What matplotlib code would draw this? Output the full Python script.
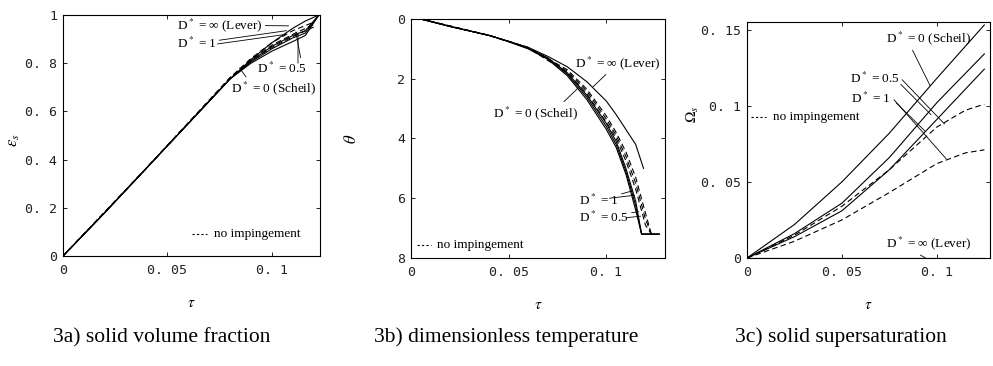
import matplotlib
matplotlib.use("Agg")
import matplotlib.pyplot as plt

plt.rcParams['font.family'] = ['Liberation Serif', 'DejaVu Serif']
plt.rcParams['mathtext.fontset'] = 'stix'

# ---- 3a) solid volume fraction ----
tau_a = [0, 0.02, 0.04, 0.06, 0.08, 0.09, 0.1, 0.11, 0.116, 0.1225]
eps_lever = [0, 0.18, 0.365, 0.55, 0.735, 0.815, 0.885, 0.945, 0.975, 1.0]
eps_d1 = [0, 0.18, 0.365, 0.55, 0.735, 0.81, 0.87, 0.915, 0.935, 1.0]
eps_d05 = [0, 0.18, 0.365, 0.55, 0.735, 0.805, 0.86, 0.905, 0.925, 1.0]
eps_scheil = [0, 0.18, 0.365, 0.55, 0.735, 0.80, 0.85, 0.89, 0.915, 1.0]
tau_a_ni = [0, 0.04, 0.08, 0.09, 0.1, 0.11, 0.12]
eps_scheil_ni = [0, 0.365, 0.74, 0.81, 0.865, 0.91, 0.95]
eps_d05_ni = [0, 0.365, 0.74, 0.815, 0.875, 0.92, 0.96]
eps_d1_ni = [0, 0.365, 0.74, 0.82, 0.885, 0.935, 0.97]

# ---- 3b) dimensionless temperature ----
tau_b = [0.005, 0.02, 0.04, 0.05, 0.06, 0.07, 0.08, 0.09, 0.1, 0.105, 0.11, 0.115, 0.118, 0.127]
th_scheil = [0, 0.25, 0.55, 0.76, 1.0, 1.35, 1.9, 2.7, 3.7, 4.3, 5.2, 6.4, 7.2, 7.2]
th_d05 = [0, 0.25, 0.55, 0.75, 0.99, 1.32, 1.85, 2.62, 3.6, 4.2, 5.1, 6.25, 7.2, 7.2]
th_d1 = [0, 0.25, 0.55, 0.75, 0.98, 1.3, 1.8, 2.55, 3.5, 4.1, 5.0, 6.1, 7.2, 7.2]
tau_b_lever = [0.005, 0.02, 0.04, 0.06, 0.07, 0.08, 0.09, 0.1, 0.105, 0.11, 0.115, 0.119]
th_lever = [0, 0.25, 0.55, 0.95, 1.25, 1.6, 2.1, 2.75, 3.2, 3.7, 4.2, 5.0]
tau_b_ni = [0.005, 0.04, 0.06, 0.08, 0.09, 0.1, 0.105, 0.11, 0.115, 0.12, 0.123]
th_scheil_ni = [0, 0.55, 0.97, 1.8, 2.5, 3.45, 4.0, 4.75, 5.7, 6.9, 7.2]
th_d05_ni = [0, 0.55, 0.96, 1.75, 2.42, 3.35, 3.9, 4.6, 5.5, 6.7, 7.2]
th_d1_ni = [0, 0.55, 0.95, 1.7, 2.35, 3.25, 3.8, 4.45, 5.3, 6.5, 7.2]

# ---- 3c) solid supersaturation ----
tau_c = [0, 0.025, 0.05, 0.075, 0.1, 0.125]
om_scheil = [0, 0.022, 0.05, 0.082, 0.118, 0.153]
om_d05 = [0, 0.016, 0.036, 0.066, 0.102, 0.134]
om_d1 = [0, 0.014, 0.031, 0.058, 0.091, 0.124]
om_lever = [0, 0, 0, 0, 0, 0]
tau_c_ni = [0, 0.025, 0.05, 0.075, 0.1, 0.115, 0.125]
om_d05_ni = [0, 0.015, 0.034, 0.058, 0.086, 0.097, 0.101]
om_d1_ni = [0, 0.011, 0.025, 0.043, 0.062, 0.069, 0.071]

captions = ["3a) solid volume fraction", "3b) dimensionless temperature",
            "3c) solid supersaturation"]

fig = plt.figure(figsize=(9.93, 3.66), dpi=100)
ax1 = fig.add_axes([0.0634, 0.3005, 0.2588, 0.6585])
ax2 = fig.add_axes([0.4139, 0.2951, 0.2558, 0.653])
ax3 = fig.add_axes([0.7523, 0.2951, 0.2447, 0.645])

solid = dict(color='black', lw=0.8)
dash = dict(color='black', lw=0.8, ls=(0, (5, 3)))
lead = dict(arrowstyle='-', lw=0.6, color='black', shrinkA=0, shrinkB=0)
afs = 9.5


def style(ax):
    ax.tick_params(direction='in', top=True, right=True, length=3, width=0.6,
                   labelsize=9.5, pad=4, labelfontfamily='DejaVu Sans Mono',
                   labelcolor='#222222')
    ax.tick_params(axis='x', pad=6)
    for s in ax.spines.values():
        s.set_linewidth(0.8)


# 3a
ax1.plot(tau_a, eps_lever, **solid)
ax1.plot(tau_a, eps_d1, **solid)
ax1.plot(tau_a, eps_d05, **solid)
ax1.plot(tau_a, eps_scheil, **solid)
ax1.plot(tau_a_ni, eps_scheil_ni, **dash)
ax1.plot(tau_a_ni, eps_d05_ni, **dash)
ax1.plot(tau_a_ni, eps_d1_ni, **dash)
ax1.set_xlim(0, 0.123)
ax1.set_ylim(0, 1)
ax1.set_xticks([0, 0.05, 0.1], ["0", "0. 05", "0. 1"])
ax1.set_yticks([0, 0.2, 0.4, 0.6, 0.8, 1], ["0", "0. 2", "0. 4", "0. 6", "0. 8", "1"])
ax1.set_xlabel(r'$\tau$', fontsize=11, labelpad=14)
ax1.set_ylabel(r'$\varepsilon_s$', fontsize=12)
ax1.yaxis.set_label_coords(-0.16, 0.48)
ax1.annotate(r'D$^*$ = ∞ (Lever)', xy=(0.108, 0.955), xytext=(0.0545, 0.958),
             fontsize=afs, va='center', arrowprops=lead)
ax1.annotate(r'D$^*$ = 1', xy=(0.107, 0.935), xytext=(0.0545, 0.882),
             fontsize=afs, va='center', arrowprops=lead)
ax1.annotate('', xy=(0.107, 0.92), xytext=(0.074, 0.88), arrowprops=lead)
ax1.annotate(r'D$^*$ = 0.5', xy=(0.1115, 0.93), xytext=(0.093, 0.78),
             fontsize=afs, va='center', arrowprops=dict(lead, relpos=(0.88, 1.0)))
ax1.annotate('', xy=(0.1125, 0.925), xytext=(0.1125, 0.8), arrowprops=lead)
ax1.annotate(r'D$^*$ = 0 (Scheil)', xy=(0.0845, 0.78), xytext=(0.0805, 0.695),
             fontsize=afs, va='center', arrowprops=dict(lead, relpos=(0.2, 1.0)))
ax1.plot([0.062, 0.069], [0.09, 0.09], color='black', lw=0.8, ls=(0, (2, 2)))
ax1.text(0.0725, 0.09, 'no impingement', fontsize=afs, va='center')
style(ax1)

# 3b
ax2.plot(tau_b, th_scheil, **solid)
ax2.plot(tau_b, th_d05, **solid)
ax2.plot(tau_b, th_d1, **solid)
ax2.plot(tau_b_lever, th_lever, **solid)
ax2.plot(tau_b_ni, th_scheil_ni, **dash)
ax2.plot(tau_b_ni, th_d05_ni, **dash)
ax2.plot(tau_b_ni, th_d1_ni, **dash)
ax2.set_xlim(0, 0.13)
ax2.set_ylim(8, 0)
ax2.set_xticks([0, 0.05, 0.1], ["0", "0. 05", "0. 1"])
ax2.set_yticks([0, 2, 4, 6, 8], ["0", "2", "4", "6", "8"])
ax2.set_xlabel(r'$\tau$', fontsize=11, labelpad=14)
ax2.set_ylabel(r'$\theta$', fontsize=12)
ax2.yaxis.set_label_coords(-0.2, 0.5)
ax2.annotate(r'D$^*$ = ∞ (Lever)', xy=(0.093, 2.28), xytext=(0.0837, 1.47),
             fontsize=afs, va='center', arrowprops=dict(lead, relpos=(0.4, 0.0)))
ax2.annotate(r'D$^*$ = 0 (Scheil)', xy=(0.086, 2.28), xytext=(0.042, 3.15),
             fontsize=afs, va='center', arrowprops=dict(lead, relpos=(0.8, 1.0)))
ax2.annotate(r'D$^*$ = 1', xy=(0.1135, 5.75), xytext=(0.086, 6.06),
             fontsize=afs, va='center', arrowprops=lead)
ax2.annotate('', xy=(0.1145, 5.9), xytext=(0.1015, 6.0), arrowprops=lead)
ax2.annotate(r'D$^*$ = 0.5', xy=(0.1165, 6.45), xytext=(0.086, 6.63),
             fontsize=afs, va='center', arrowprops=lead)
ax2.annotate('', xy=(0.1175, 6.6), xytext=(0.1105, 6.65), arrowprops=lead)
ax2.plot([0.003, 0.01], [7.56, 7.56], color='black', lw=0.8, ls=(0, (2, 2)))
ax2.text(0.0135, 7.56, 'no impingement', fontsize=afs, va='center')
style(ax2)

# 3c
ax3.plot(tau_c, om_scheil, **solid)
ax3.plot(tau_c, om_d05, **solid)
ax3.plot(tau_c, om_d1, **solid)
ax3.plot(tau_c, om_lever, **solid)
ax3.plot(tau_c_ni, om_d05_ni, **dash)
ax3.plot(tau_c_ni, om_d1_ni, **dash)
ax3.set_xlim(0, 0.128)
ax3.set_ylim(0, 0.155)
ax3.set_xticks([0, 0.05, 0.1], ["0", "0. 05", "0. 1"])
ax3.set_yticks([0, 0.05, 0.1, 0.15], ["0", "0. 05", "0. 1", "0. 15"])
ax3.set_xlabel(r'$\tau$', fontsize=11, labelpad=14)
ax3.set_ylabel(r'$\Omega_s$', fontsize=11)
ax3.yaxis.set_label_coords(-0.19, 0.61)
ax3.annotate(r'D$^*$ = 0 (Scheil)', xy=(0.0965, 0.113), xytext=(0.073, 0.144),
             fontsize=afs, va='center', arrowprops=dict(lead, relpos=(0.3, 0.0)))
ax3.annotate(r'D$^*$ = 0.5', xy=(0.104, 0.088), xytext=(0.054, 0.118),
             fontsize=afs, va='center', arrowprops=dict(lead, relpos=(1.0, 0.6)))
ax3.annotate('', xy=(0.097, 0.094), xytext=(0.081, 0.114), arrowprops=lead)
ax3.annotate(r'D$^*$ = 1', xy=(0.105, 0.065), xytext=(0.055, 0.105),
             fontsize=afs, va='center', arrowprops=dict(lead, relpos=(1.0, 0.6)))
ax3.annotate('', xy=(0.094, 0.083), xytext=(0.0785, 0.102), arrowprops=lead)
ax3.annotate(r'D$^*$ = ∞ (Lever)', xy=(0.094, 0.0), xytext=(0.073, 0.0095),
             fontsize=afs, va='center', arrowprops=dict(lead, relpos=(0.35, 0.0)))
ax3.plot([0.002, 0.01], [0.0925, 0.0925], color='black', lw=0.8, ls=(0, (2, 2)))
ax3.text(0.0135, 0.0925, 'no impingement', fontsize=afs, va='center')
style(ax3)

for x, cap in zip([0.163, 0.51, 0.847], captions):
    fig.text(x, 0.078, cap, fontsize=15.5, ha='center', va='center')

fig.savefig("out.png", dpi=100)
